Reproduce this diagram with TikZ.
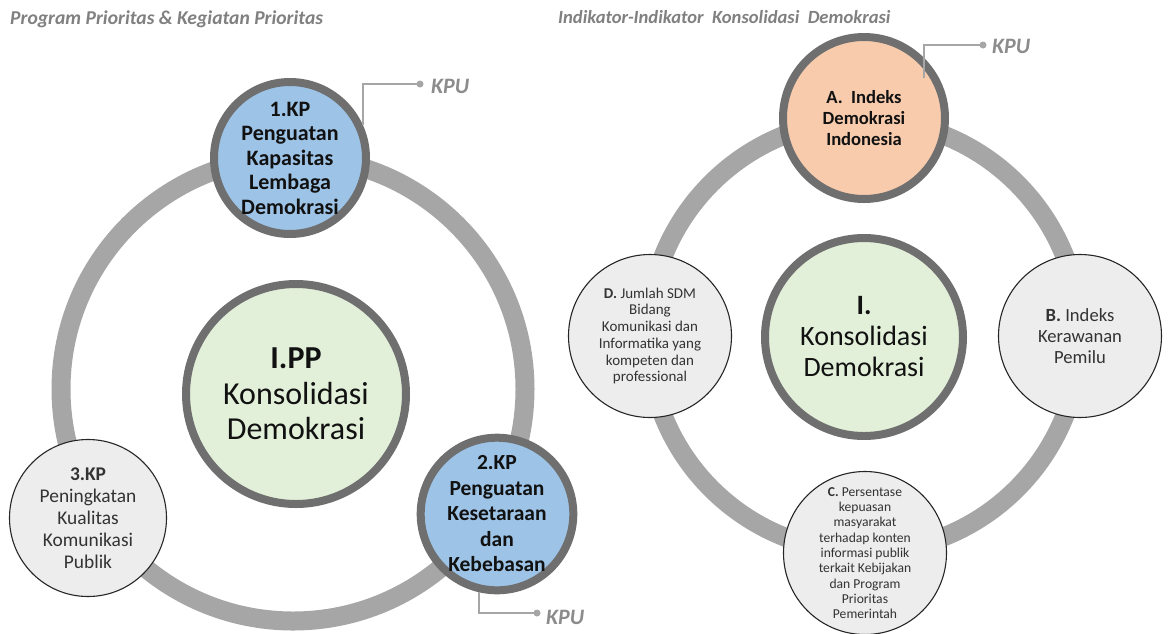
\documentclass[tikz,border=0pt]{standalone}
\usepackage{fontspec}
\setmainfont{Carlito}
\definecolor{ringgray}{HTML}{A6A6A6}
\definecolor{bordergray}{HTML}{6F6F6F}
\definecolor{bluefill}{HTML}{9DC3E6}
\definecolor{peachfill}{HTML}{F8CBAD}
\definecolor{greenfill}{HTML}{E2EFD9}
\definecolor{lightfill}{HTML}{EDEDED}
\definecolor{linegray}{HTML}{A6A6A6}
\definecolor{kpugray}{HTML}{8C8C8C}
\definecolor{titlegray}{HTML}{808080}
\definecolor{txtdark}{HTML}{111111}
\definecolor{txtgray}{HTML}{333333}
\begin{document}
\begin{tikzpicture}[x=1pt,y=-1pt]
\tikzset{
  ring/.style={draw=ringgray, line width=19pt},
  bigc/.style={circle, draw=bordergray, line width=8pt, inner sep=0pt, align=center, text=txtdark},
  thinc/.style={circle, draw=black!85, line width=1.1pt, fill=lightfill, inner sep=0pt, align=center, text=txtgray},
  kpuline/.style={draw=linegray, line width=1.6pt},
  kpudot/.style={circle, fill=linegray, inner sep=0pt, minimum size=7pt},
  kpu/.style={font=\fontsize{22}{24}\selectfont\bfseries\itshape, text=kpugray, anchor=west, inner sep=0pt},
  titletext/.style={font=\fontsize{19.6}{21}\selectfont\bfseries\itshape, text=titlegray, anchor=west, inner sep=0pt}
}
\useasboundingbox (0,0) rectangle (1168,633);
\fill[white] (0,0) rectangle (1168,633);

% titles
\node[titletext] (t1) at (10,19) {Program Prioritas \& Kegiatan Prioritas};
\node[titletext, font=\fontsize{18.6}{20}\selectfont\bfseries\itshape] (t2) at (558,17) {Indikator-Indikator\ \ Konsolidasi\ \ Demokrasi};

% ===== left panel =====
\draw[ring] (293,389) circle[radius=232pt];
\node[bigc, fill=greenfill, minimum size=220pt, font=\fontsize{32}{35.5}\selectfont] (lc) at (296,394)
  {{\bfseries I.PP}\\Konsolidasi\\Demokrasi};
\node[bigc, fill=bluefill, minimum size=152pt, font=\fontsize{22}{24.5}\selectfont\bfseries] (n1) at (290,158)
  {1.KP\\Penguatan\\Kapasitas\\Lembaga\\Demokrasi};
\node[bigc, fill=bluefill, minimum size=148pt, font=\fontsize{21.5}{25.5}\selectfont\bfseries] (n2) at (497,514)
  {2.KP\\Penguatan\\Kesetaraan\\dan\\Kebebasan};
\node[thinc, minimum size=157pt, font=\fontsize{19.4}{22}\selectfont] (n3) at (88,518)
  {{\bfseries 3.KP}\\Peningkatan\\Kualitas\\Komunikasi\\Publik};

% KPU connectors left
\coordinate (k1) at (420,84);
\draw[kpuline] (n1.24) |- (k1);
\node[kpudot] (d1) at (k1) {};
\node[kpu] (kpu1) at (431,86) {KPU};

\coordinate (k2) at (537,613);
\draw[kpuline] (n2.257) |- (k2);
\node[kpudot] (d2) at (k2) {};
\node[kpu] (kpu2) at (546,617) {KPU};

% ===== right panel =====
\draw[ring] (864,336) circle[radius=216pt];
\node[bigc, fill=greenfill, minimum size=198pt, font=\fontsize{28}{31}\selectfont] (rc) at (864,337)
  {{\bfseries I.}\\Konsolidasi\\Demokrasi};
\node[bigc, fill=peachfill, minimum size=162pt, font=\fontsize{18.6}{21}\selectfont\bfseries] (na) at (864,118)
  {A.\ \ Indeks\\Demokrasi\\Indonesia};
\node[thinc, minimum size=163pt, font=\fontsize{18.6}{21}\selectfont] (nb) at (1080,336)
  {{\bfseries B.} Indeks\\Kerawanan\\Pemilu};
\node[thinc, minimum size=163pt, font=\fontsize{13.6}{15.3}\selectfont] (nc) at (865,553)
  {{\bfseries C.} Persentase\\kepuasan\\masyarakat\\terhadap konten\\informasi publik\\terkait Kebijakan\\dan Program\\Prioritas\\Pemerintah};
\node[thinc, minimum size=163pt, font=\fontsize{15}{16.7}\selectfont] (nd) at (650,336)
  {{\bfseries D.} Jumlah SDM\\Bidang\\Komunikasi dan\\Informatika yang\\kompeten dan\\professional};

% KPU connector right
\coordinate (ka) at (924,78);
\coordinate (kb) at (983,45);
\draw[kpuline] (ka) |- (kb);
\node[kpudot] (d3) at (kb) {};
\node[kpu] (kpu3) at (992,46) {KPU};
\end{tikzpicture}
\end{document}
